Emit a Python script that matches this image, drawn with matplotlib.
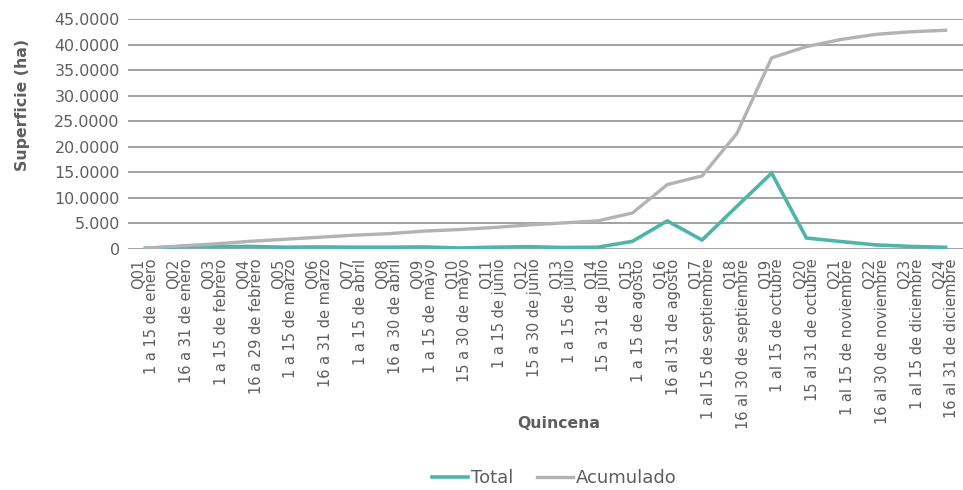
import matplotlib
matplotlib.use('Agg')
import matplotlib.pyplot as plt

# %%
# Datos (ha por quincena)

QUINCENAS = ['Q01\n1 a 15 de enero', 'Q02\n16 a 31 de enero',
             'Q03\n1 a 15 de febrero', 'Q04\n16 a 29 de febrero',
             'Q05\n1 a 15 de marzo', 'Q06\n16 a 31 de marzo',
             'Q07\n1 a 15 de abril', 'Q08\n16 a 30 de abril',
             'Q09\n1 a 15 de mayo', 'Q10\n15 a 30 de mayo',
             'Q11\n1 a 15 de junio', 'Q12\n15 a 30 de junio',
             'Q13\n1 a 15 de julio', 'Q14\n15 a 31 de julio',
             'Q15\n1 a 15 de agosto', 'Q16\n16 al 31 de agosto',
             'Q17\n1 al 15 de septiembre', 'Q18\n16 al 30 de septiembre',
             'Q19\n1 al 15 de octubre', 'Q20\n15 al 31 de octubre',
             'Q21\n1 al 15 de noviembre', 'Q22\n16 al 30 de noviembre',
             'Q23\n1 al 15 de diciembre', 'Q24\n16 al 31 de diciembre']

total = [150, 450, 450, 500, 350, 400, 350, 350, 400, 200, 350, 450,
         300, 350, 1500, 5500, 1750, 8350, 14850, 2150, 1450, 800, 500, 330]

acumulado = [150, 600, 1000, 1500, 1900, 2300, 2700, 3000, 3500, 3800,
             4200, 4700, 5100, 5500, 7050, 12600, 14300, 22600, 37400,
             39600, 41000, 42000, 42500, 42800]

y_ticks = [0, 5000, 10000, 15000, 20000, 25000, 30000, 35000, 40000, 45000]
y_ticklabels = ['0', '5.000', '10.0000', '15.0000', '20.0000', '25.0000',
                '30.0000', '35.0000', '40.0000', '45.0000']

TEAL = '#4fb5ab'
GRIS = '#b3b3b3'
TEXTO = '#5e5e5e'

W, H = 963, 490
fig = plt.figure(figsize=(W / 100, H / 100), dpi=100)
ax = fig.add_axes([128 / W, 1 - 249 / H, 835 / W, 230 / H])

x = range(len(QUINCENAS))
ax.plot(x, total, color=TEAL, lw=2.6, label='Total', solid_joinstyle='miter')
ax.plot(x, acumulado, color=GRIS, lw=2.4, label='Acumulado')

ax.set_xlim(-0.5, len(QUINCENAS) - 0.5)
ax.set_ylim(0, 45000)
ax.set_yticks(y_ticks)
ax.set_yticklabels(y_ticklabels)
ax.set_xticks(list(x))
ax.set_xticklabels(QUINCENAS, rotation=90, ha='center', va='top',
                   multialignment='right', linespacing=0.8)

ax.grid(axis='y', color='#8a8a8a', lw=1.1)
ax.set_axisbelow(True)
for s in ax.spines.values():
    s.set_visible(False)
ax.tick_params(axis='both', length=0, colors=TEXTO)
ax.tick_params(axis='y', labelsize=11.4, pad=6)
ax.tick_params(axis='x', labelsize=10.5, pad=7)

fig.text(22 / W, 1 - 105 / H, 'Superficie (ha)', rotation=90, ha='center',
         va='center', fontsize=11.3, fontweight='bold', color=TEXTO)
fig.text(559 / W, 1 - 423 / H, 'Quincena', ha='center', va='center',
         fontsize=11.3, fontweight='bold', color=TEXTO)

leg = fig.legend(loc='center', bbox_to_anchor=(554 / W, 1 - 478 / H), ncol=2,
                 frameon=False, fontsize=13, handlelength=2.0,
                 handletextpad=0.15, columnspacing=1.3)
for t in leg.get_texts():
    t.set_color(TEXTO)

fig.savefig('out.png', dpi=100)
